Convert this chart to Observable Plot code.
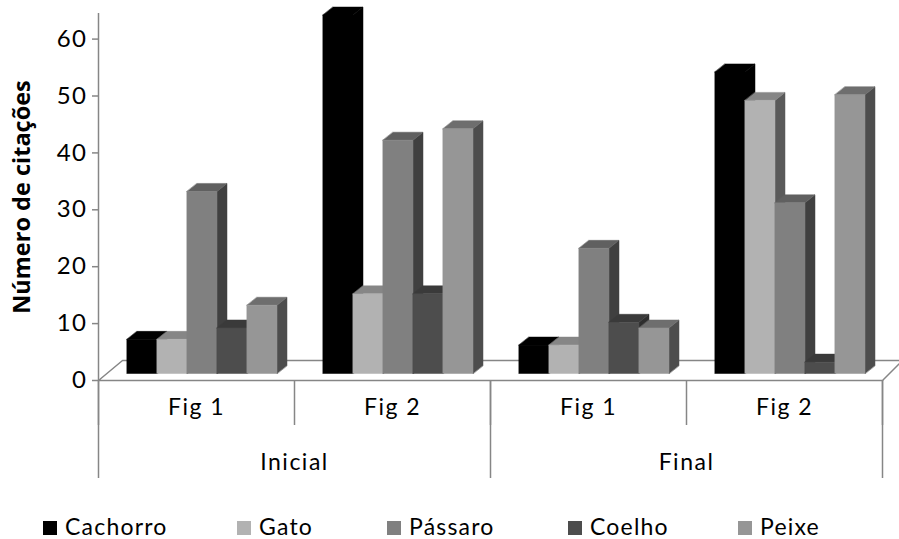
<!DOCTYPE html>
<html>
<head>
<meta charset="utf-8">
<script src="https://cdn.jsdelivr.net/npm/d3@7"></script>
<script src="https://cdn.jsdelivr.net/npm/@observablehq/plot@0.6"></script>
<style>
  html, body { margin: 0; padding: 0; background: #fff; }
  #wrap { width: 899px; }
  #legend { position: relative; width: 899px; height: 34px; font-family: Lato, sans-serif; font-size: 23px; color: #000; }
  .item { position: absolute; top: 4px; display: flex; align-items: center; height: 34px; letter-spacing: 1.2px; }
  .sw { width: 14px; height: 14px; margin-right: 8px; margin-top: 3px; }
  svg text { letter-spacing: 1.5px; }
  svg .ytitle text { letter-spacing: 0; }
</style>
</head>
<body>
<div id="wrap"></div>
<script>
// ---- data ----
const groups = ["Fig 1", "Fig 2", "Fig 1", "Fig 2"];
const phases = ["Inicial", "Final"];
const series = ["Cachorro", "Gato", "Pássaro", "Coelho", "Peixe"];
const cachorro = [6, 63, 5, 53];
const gato = [6, 14, 5, 48];
const passaro = [32, 41, 22, 30];
const coelho = [8, 14, 9, 2];
const peixe = [12, 43, 8, 49];
const yTicks = [0, 10, 20, 30, 40, 50, 60];

// ---- styles ----
const frontColors = ["#000000", "#b2b2b2", "#808080", "#4d4d4d", "#969696"];
const topColors   = ["#000000", "#868686", "#606060", "#3a3a3a", "#6e6e6e"];
const sideColors  = ["#000000", "#5a5a5a", "#404040", "#2e2e2e", "#4d4d4d"];
const legendX = [43, 237, 387, 568, 738];
const axisGray = "#868686";

const values = [cachorro, gato, passaro, coelho, peixe];

// layout
const W = 899, H = 505;
const mL = 98, mR = 17, mT = 13, mB = H - 380;
const xMax = groups.length, yMax = 64.5;
const ux = px => px * xMax / (W - mL - mR);
const uy = px => px * yMax / (H - mT - mB);

// bar geometry (pixels converted to data units)
const offX = 28.5, barW = 30, depthX = 10, depthY = 8, baseY = 7;

// build polygons for 3D faces, in painter's order
const faces = [];
let fid = 0;
function poly(pts, color) {
  const id = fid++;
  for (const [x, y] of pts) faces.push({x, y, id, color});
}
const floorPts = [[0, 0], [xMax, 0], [xMax + ux(20), uy(20)], [ux(24), uy(20)]];
groups.forEach((g, gi) => {
  series.forEach((s, si) => {
    const v = values[si][gi];
    const x0 = gi + ux(offX + barW * si), x1 = x0 + ux(barW);
    const yb = uy(baseY), yt = yb + v;
    const dx = ux(depthX), dy = uy(depthY);
    poly([[x1, yb], [x1, yt], [x1 + dx, yt + dy], [x1 + dx, yb + dy]], sideColors[si]);
    poly([[x0, yt], [x1, yt], [x1 + dx, yt + dy], [x0 + dx, yt + dy]], topColors[si]);
    poly([[x0, yb], [x1, yb], [x1, yt], [x0, yt]], frontColors[si]);
  });
});

const font = "Lato, sans-serif";
const chart = Plot.plot({
  width: W, height: H,
  marginLeft: mL, marginRight: mR, marginTop: mT, marginBottom: mB,
  x: {type: "linear", domain: [0, xMax], axis: null},
  y: {type: "linear", domain: [0, yMax], axis: null},
  color: {type: "identity"},
  style: {fontFamily: font, background: "#fff", overflow: "visible"},
  marks: [
    Plot.line(floorPts, {x: d => d[0], y: d => d[1], curve: "linear-closed", fill: "#fff", stroke: axisGray, strokeWidth: 1.5}),
    Plot.line(faces, {x: "x", y: "y", z: "id", fill: "color", stroke: "color", strokeWidth: 0.5, curve: "linear-closed"}),
    Plot.ruleX([0], {y1: 0, y2: yMax, stroke: axisGray, strokeWidth: 1.5}),
    Plot.axisY({ticks: yTicks, tickSize: 6, tickPadding: 5, fontSize: 24, stroke: axisGray, strokeWidth: 1.5, strokeOpacity: 1, label: null, tickFormat: d => d, fill: "#000"}),
    Plot.text(["Número de citações"], {x: 0, y: yMax / 2, dx: -76, rotate: -90, fontSize: 23.5, fontWeight: "bold", fill: "#000", fontFamily: "'Open Sans', sans-serif", className: "ytitle"}),
    Plot.ruleX(d3.range(groups.length + 1), {y1: 0, y2: -uy(45), stroke: axisGray, strokeWidth: 1.5}),
    Plot.ruleX(d3.range(0, groups.length + 1, 2), {y1: 0, y2: -uy(98), stroke: axisGray, strokeWidth: 1.5}),
    Plot.text(groups, {x: (d, i) => i + 0.5, y: 0, dy: 27, fontSize: 23, fill: "#000", text: d => d}),
    Plot.text(phases, {x: (d, i) => 2 * i + 1, y: 0, dy: 82, fontSize: 23, fill: "#000", text: d => d})
  ]
});
document.getElementById("wrap").appendChild(chart);

// legend
const leg = document.createElement("div");
leg.id = "legend";
series.forEach((s, i) => {
  const it = document.createElement("div");
  it.className = "item";
  it.style.left = legendX[i] + "px";
  const sw = document.createElement("span");
  sw.className = "sw";
  sw.style.background = frontColors[i];
  const tx = document.createElement("span");
  tx.textContent = s;
  it.appendChild(sw); it.appendChild(tx);
  leg.appendChild(it);
});
document.getElementById("wrap").appendChild(leg);
</script>
</body>
</html>
